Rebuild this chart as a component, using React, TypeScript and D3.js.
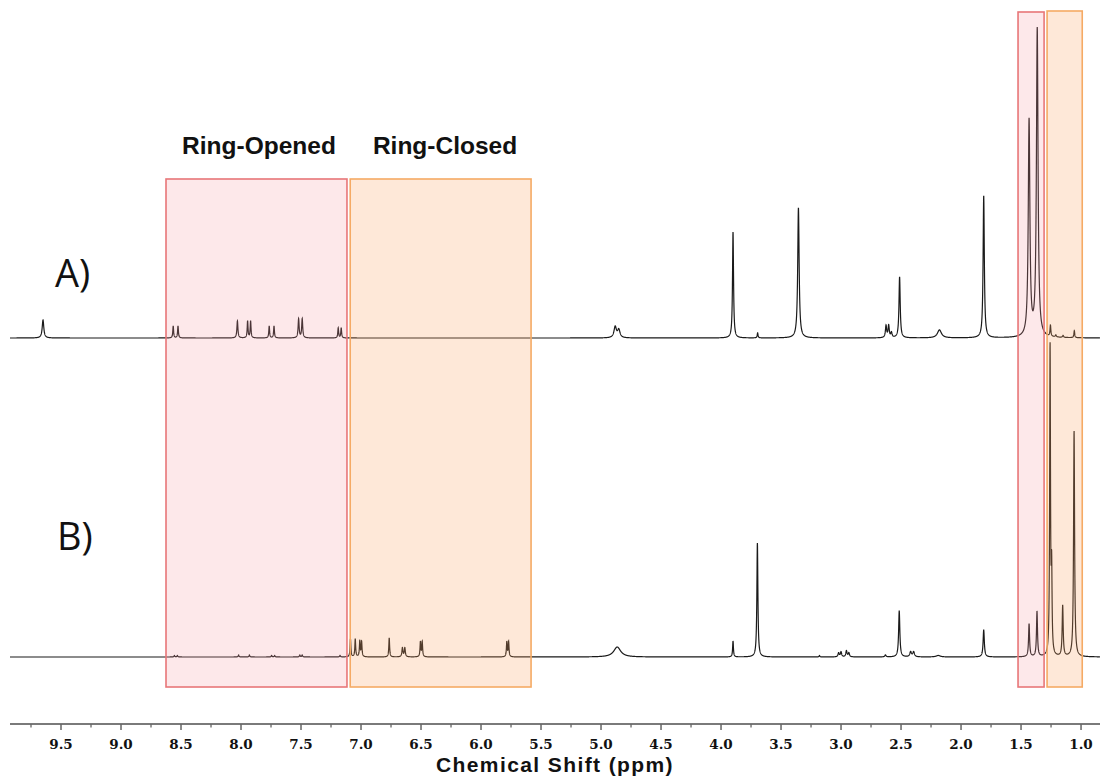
import React from "react";
import * as d3 from "d3";

// Axis ticks (ppm)
const majorTicks = [9.5, 9.0, 8.5, 8.0, 7.5, 7.0, 6.5, 6.0, 5.5, 5.0, 4.5, 4.0, 3.5, 3.0, 2.5, 2.0, 1.5, 1.0];
const minorTicks = [9.75, 9.25, 8.75, 8.25, 7.75, 7.25, 6.75, 6.25, 5.75, 5.25, 4.75, 4.25, 3.75, 3.25, 2.75, 2.25, 1.75, 1.25];

// Spectrum A peaks: position (ppm), height (intensity), half-width (ppm)
const specA_ppm = [9.65, 8.565, 8.525, 8.03, 7.945, 7.92, 7.765, 7.725, 7.52, 7.49, 7.19, 7.165, 4.882, 4.852, 3.9, 3.695, 3.355, 2.625, 2.603, 2.58, 2.512, 2.18, 1.811, 1.433, 1.365, 1.255, 1.21, 1.15, 1.056];
const specA_height = [18, 12, 12, 17, 17, 17, 12, 12, 19, 19, 10, 10, 11, 8, 106, 5, 130, 12, 12, 5, 61, 8, 142, 216, 308, 11, 2, 2, 7];
const specA_width = [0.008, 0.004, 0.004, 0.005, 0.004, 0.004, 0.004, 0.004, 0.005, 0.005, 0.004, 0.004, 0.012, 0.012, 0.005, 0.004, 0.007, 0.006, 0.006, 0.006, 0.006, 0.02, 0.006, 0.008, 0.008, 0.004, 0.005, 0.005, 0.004];

// Spectrum B peaks
const specB_ppm = [8.555, 8.53, 8.02, 7.93, 7.745, 7.72, 7.51, 7.49, 7.175, 7.088, 7.048, 7.01, 6.995, 6.765, 6.655, 6.635, 6.505, 6.49, 5.785, 5.77, 4.865, 3.9, 3.697, 3.18, 3.02, 3.0, 2.955, 2.935, 2.63, 2.515, 2.42, 2.395, 2.19, 1.811, 1.433, 1.367, 1.258, 1.245, 1.153, 1.058];
const specB_height = [1.5, 1.5, 2, 2, 1.5, 1.5, 2, 2, 1.5, 18, 18, 16, 15, 19, 9, 9, 15, 15, 15, 15, 10, 16, 114, 1.5, 4, 5, 6, 4, 2, 46, 5, 5, 1.5, 27, 33, 45, 308, 80, 51, 226];
const specB_width = [0.004, 0.004, 0.004, 0.004, 0.004, 0.004, 0.004, 0.004, 0.004, 0.004, 0.004, 0.004, 0.004, 0.004, 0.005, 0.005, 0.004, 0.004, 0.004, 0.004, 0.035, 0.004, 0.005, 0.004, 0.006, 0.006, 0.006, 0.006, 0.006, 0.006, 0.008, 0.008, 0.02, 0.006, 0.005, 0.005, 0.004, 0.004, 0.005, 0.005];

// Highlight regions (ppm ranges)
const regionNames = ["Ring-Opened", "Ring-Closed", "", ""];
const regionFrom = [8.625, 7.09, 1.525, 1.283];
const regionTo = [7.117, 5.583, 1.308, 0.99];
const regionKind = ["open", "closed", "open", "closed"];
const regionLabelPpm = [7.85, 6.3, 0, 0];

const spectrumLabels = ["A)", "B)"];

const W = 1100;
const H = 779;

function buildSpectrum(ppm: number[], h: number[], w: number[], lo: number, hi: number) {
  const pts: [number, number][] = [];
  const step = 0.0008;
  for (let p = hi; p >= lo; p -= step) {
    let s = 0;
    for (let i = 0; i < ppm.length; i++) {
      const d = p - ppm[i];
      s += (h[i] * w[i] * w[i]) / (d * d + w[i] * w[i]);
    }
    pts.push([p, s]);
  }
  return pts;
}

export default function App() {
  const x = d3.scaleLinear().domain([9.925, 0.842]).range([10, 1100]);
  const yA = d3.scaleLinear().domain([0, 310]).range([338, 28]);
  const yB = d3.scaleLinear().domain([0, 310]).range([657, 347]);

  const dataA = buildSpectrum(specA_ppm, specA_height, specA_width, 0.842, 9.925);
  const dataB = buildSpectrum(specB_ppm, specB_height, specB_width, 0.842, 9.925);

  const lineA = d3.line<[number, number]>().x((d) => x(d[0])).y((d) => yA(d[1]))(dataA) || "";
  const lineB = d3.line<[number, number]>().x((d) => x(d[0])).y((d) => yB(d[1]))(dataB) || "";

  const axisY = 724;
  const rectTopBig = 179;
  const rectTopSmall = [12, 11];
  const rectBottom = 687;

  const styles = {
    open: { fill: "rgb(248,150,160)", stroke: "rgb(232,118,120)", op: 0.22 },
    closed: { fill: "rgb(250,165,100)", stroke: "rgb(245,170,100)", op: 0.25 },
  } as const;

  return (
    <svg width={W} height={H} style={{ position: "absolute", left: 0, top: 0, background: "#fff" }}>
      <rect x={0} y={0} width={W} height={H} fill="#fff" />
      <path d={lineA} fill="none" stroke="#1a1a1a" strokeWidth={1.2} />
      <path d={lineB} fill="none" stroke="#1a1a1a" strokeWidth={1.2} />

      {regionFrom.map((f, i) => {
        const x0 = x(f);
        const x1 = x(regionTo[i]);
        const st = styles[regionKind[i] as "open" | "closed"];
        const top = i < 2 ? rectTopBig : rectTopSmall[i - 2];
        return (
          <rect
            key={"r" + i}
            x={x0}
            y={top}
            width={x1 - x0}
            height={rectBottom - top}
            fill={st.fill}
            fillOpacity={st.op}
            stroke={st.stroke}
            strokeWidth={1.6}
          />
        );
      })}

      {regionNames.map((n, i) =>
        n ? (
          <text
            key={"rn" + i}
            x={x(regionLabelPpm[i])}
            y={154}
            textAnchor="middle"
            fontFamily="'Liberation Sans', Arial, sans-serif"
            fontWeight="bold"
            fontSize={24.5}
            fill="#111"
          >
            {n}
          </text>
        ) : null
      )}

      <text x={55} y={287} fontFamily="'Open Sans', 'Noto Sans', sans-serif" fontSize={38} fill="#111">
        {spectrumLabels[0]}
      </text>
      <text x={57} y={550} fontFamily="'Open Sans', 'Noto Sans', sans-serif" fontSize={38} fill="#111">
        {spectrumLabels[1]}
      </text>

      {/* Axis */}
      <line x1={10} x2={1100} y1={axisY} y2={axisY} stroke="#7a7a7a" strokeWidth={2} />
      {majorTicks.map((t) => (
        <g key={"M" + t}>
          <line x1={x(t)} x2={x(t)} y1={axisY} y2={axisY + 6} stroke="#666" strokeWidth={1.5} />
          <text
            x={x(t)}
            y={749}
            textAnchor="middle"
            fontFamily="'DejaVu Serif', serif"
            fontWeight="bold"
            fontSize={13.5}
            fill="#111"
          >
            {t.toFixed(1)}
          </text>
        </g>
      ))}
      {minorTicks.map((t) => (
        <line key={"m" + t} x1={x(t)} x2={x(t)} y1={axisY} y2={axisY + 3.5} stroke="#666" strokeWidth={1.3} />
      ))}
      <text
        x={555}
        y={772}
        textAnchor="middle"
        fontFamily="'Liberation Sans', Arial, sans-serif"
        fontWeight="bold"
        fontSize={21}
        letterSpacing={1.4}
        fill="#111"
      >
        Chemical Shift (ppm)
      </text>
    </svg>
  );
}
